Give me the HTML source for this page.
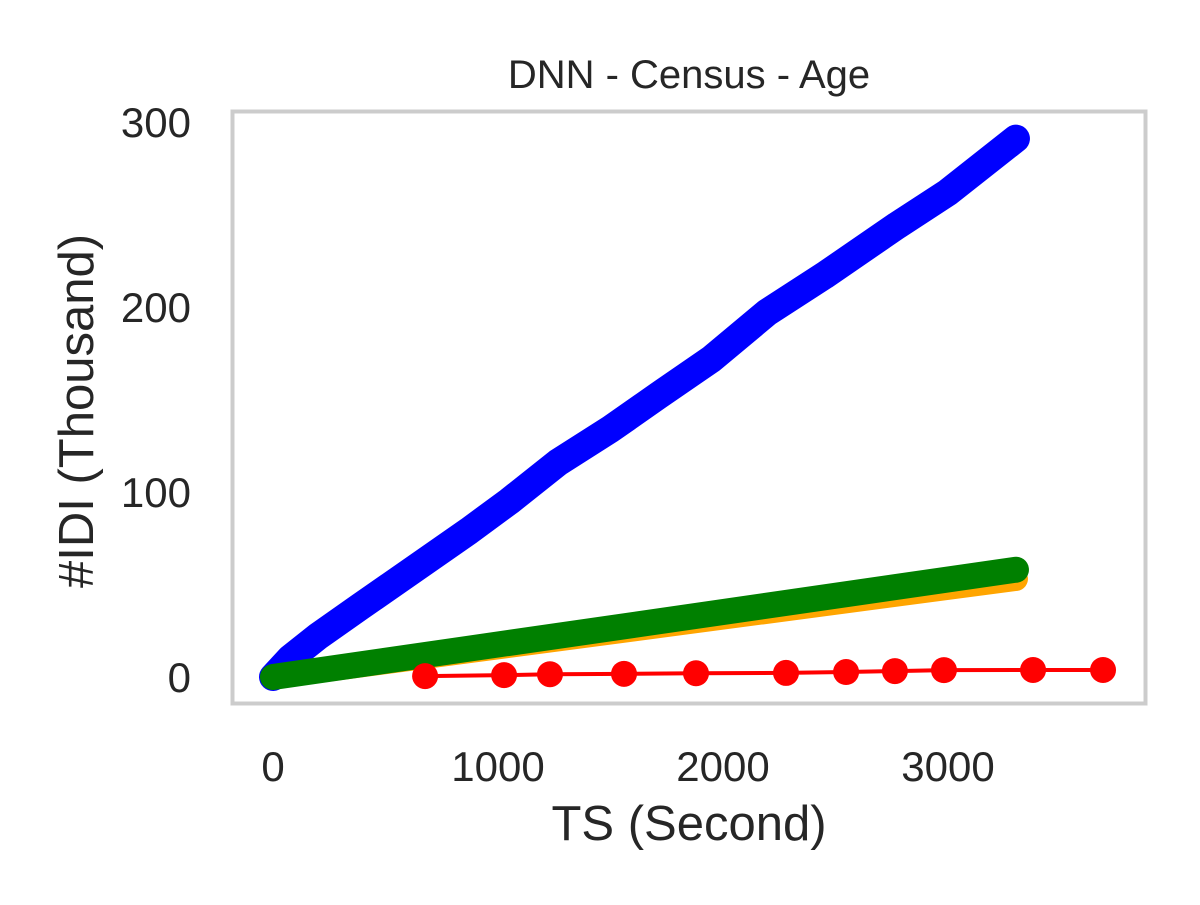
<!DOCTYPE html>
<html><head><meta charset="utf-8"><style>
body{margin:0;background:#fff;}
svg text{font-family:"Liberation Sans",Arial,sans-serif;fill:#262626;}
</style></head><body>
<svg width="1200" height="900">
<rect x="0" y="0" width="1200" height="900" fill="#fff"/>
<text x="689" y="88" font-size="40" text-anchor="middle">DNN - Census - Age</text>
<rect x="232.5" y="111.5" width="913" height="592" fill="#fff" stroke="#cccccc" stroke-width="4"/>
<g id="xt"></g>
<g id="yt"></g>
<text x="689" y="840" font-size="49" text-anchor="middle">TS (Second)</text>
<text transform="translate(93,411) rotate(-90)" font-size="49" text-anchor="middle">#IDI (Thousand)</text>
<g id="series"></g>
</svg>
<script>
const xTicks=[0,1000,2000,3000];
const yTicks=[0,100,200,300];
const blueX=[0,76,200,387,600,871,1050,1267,1500,1711,1950,2196,2450,2773,3000,3302];
const blueY=[0,10,22,38,56,79,95,116,134,152,172,197,217,244,262,291];
const greenX=[0,3302];
const greenY=[0,58];
const orangeX=[0,3302];
const orangeY=[0,53];
const redX=[676,1027,1231,1560,1880,2280,2547,2764,2982,3378,3689];
const redY=[0.5,1,1.5,1.7,2,2.2,2.7,3.2,3.7,3.8,3.8];
const NS="http://www.w3.org/2000/svg";
function sx(v){return 273+v*0.225;}
function sy(v){return 677-v*1.85;}
function mk(tag,attrs,parent){const e=document.createElementNS(NS,tag);for(const k in attrs)e.setAttribute(k,attrs[k]);parent.appendChild(e);return e;}
const xt=document.getElementById('xt'),yt=document.getElementById('yt'),sg=document.getElementById('series');
xTicks.forEach(v=>{const t=mk('text',{x:sx(v),y:781,'font-size':42,'text-anchor':'middle'},xt);t.textContent=v;

});
yTicks.forEach(v=>{const t=mk('text',{x:191,y:sy(v)+15,'font-size':42,'text-anchor':'end'},yt);t.textContent=v;

});
function line(xs,ys,color,w,name){const d=xs.map((x,i)=>(i?'L':'M')+sx(x)+','+sy(ys[i])).join(' ');
const p=mk('path',{d:d,fill:'none',stroke:color,'stroke-width':w,'stroke-linecap':'round','stroke-linejoin':'round'},sg);

}
line(blueX,blueY,'#0000ff',28,'blue-series-line');
line(orangeX,orangeY,'#ffa500',24,'orange-series-line');
line(greenX,greenY,'#008000',26,'green-series-line');
line(redX,redY,'#ff0000',4,'red-series-line');
redX.forEach((x,i)=>{const c=mk('circle',{cx:sx(x),cy:sy(redY[i]),r:13,fill:'#ff0000'},sg);

});
</script>
</body></html>
